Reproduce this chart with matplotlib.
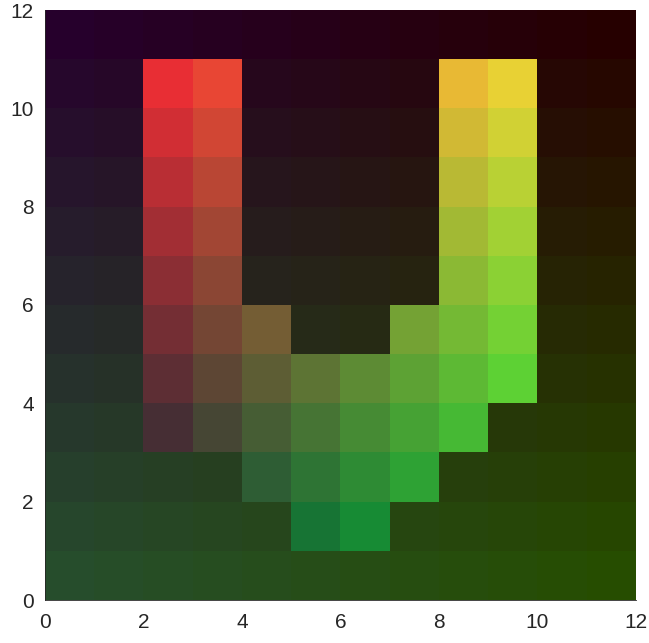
import numpy as np
import matplotlib
matplotlib.use("Agg")
import matplotlib.pyplot as plt
from matplotlib.colors import to_rgb

# cell colours, top row (y 11-12) first, columns x 0..11
cells = [
    ["#26002c", "#260028", "#260024", "#260020", "#26001c", "#260018", "#260014", "#260010", "#26000c", "#260008", "#260004", "#260000"],
    ["#26072c", "#260728", "#e82e34", "#e84634", "#26071c", "#260718", "#260714", "#260710", "#e8b934", "#e8d134", "#260704", "#260700"],
    ["#260e2c", "#260e28", "#d12e34", "#d14634", "#260e1c", "#260e18", "#260e14", "#260e10", "#d1b934", "#d1d134", "#260e04", "#260e00"],
    ["#26152c", "#261528", "#b92e34", "#b94634", "#26151c", "#261518", "#261514", "#261510", "#b9b934", "#b9d134", "#261504", "#261500"],
    ["#261c2c", "#261c28", "#a22e34", "#a24634", "#261c1c", "#261c18", "#261c14", "#261c10", "#a2b934", "#a2d134", "#261c04", "#261c00"],
    ["#26232c", "#262328", "#8b2e34", "#8b4634", "#26231c", "#262318", "#262314", "#262310", "#8bb934", "#8bd134", "#262304", "#262300"],
    ["#262a2c", "#262a28", "#742e34", "#744634", "#745d34", "#262a18", "#262a14", "#74a234", "#74b934", "#74d134", "#262a04", "#262a00"],
    ["#26312c", "#263128", "#5d2e34", "#5d4634", "#5d5d34", "#5d7434", "#5d8b34", "#5da234", "#5db934", "#5dd134", "#263104", "#263100"],
    ["#26382c", "#263828", "#462e34", "#464634", "#465d34", "#467434", "#468b34", "#46a234", "#46b934", "#263808", "#263804", "#263800"],
    ["#263f2c", "#263f28", "#263f24", "#263f20", "#2e5d34", "#2e7434", "#2e8b34", "#2ea234", "#263f0c", "#263f08", "#263f04", "#263f00"],
    ["#26462c", "#264628", "#264624", "#264620", "#26461c", "#177434", "#178b34", "#264610", "#26460c", "#264608", "#264604", "#264600"],
    ["#264d2c", "#264d28", "#264d24", "#264d20", "#264d1c", "#264d18", "#264d14", "#264d10", "#264d0c", "#264d08", "#264d04", "#264d00"],
]
ticks = [0, 2, 4, 6, 8, 10, 12]

img = np.array([[to_rgb(c) for c in row] for row in cells])

fig = plt.figure(figsize=(6.49, 6.43), dpi=100)
ax = fig.add_axes([45 / 649, 43 / 643, 591 / 649, 590 / 643])
ax.imshow(img, extent=[0, 12, 0, 12], origin="upper", interpolation="nearest", aspect="auto")
ax.set_xlim(0, 12)
ax.set_ylim(0, 12)
ax.set_xticks(ticks)
ax.set_yticks(ticks)
ax.set_xticklabels([str(t) for t in ticks], fontfamily="Liberation Sans", fontsize=15, color="#262626")
ax.set_yticklabels([str(t) for t in ticks], fontfamily="Liberation Sans", fontsize=15, color="#262626")
ax.tick_params(axis="x", length=0, pad=9)
ax.tick_params(axis="y", length=0, pad=8)
for s in ["top", "right"]:
    ax.spines[s].set_visible(False)
for s in ["left", "bottom"]:
    ax.spines[s].set_color("#262626")
    ax.spines[s].set_linewidth(0.6)

fig.savefig("out.png", dpi=100)
